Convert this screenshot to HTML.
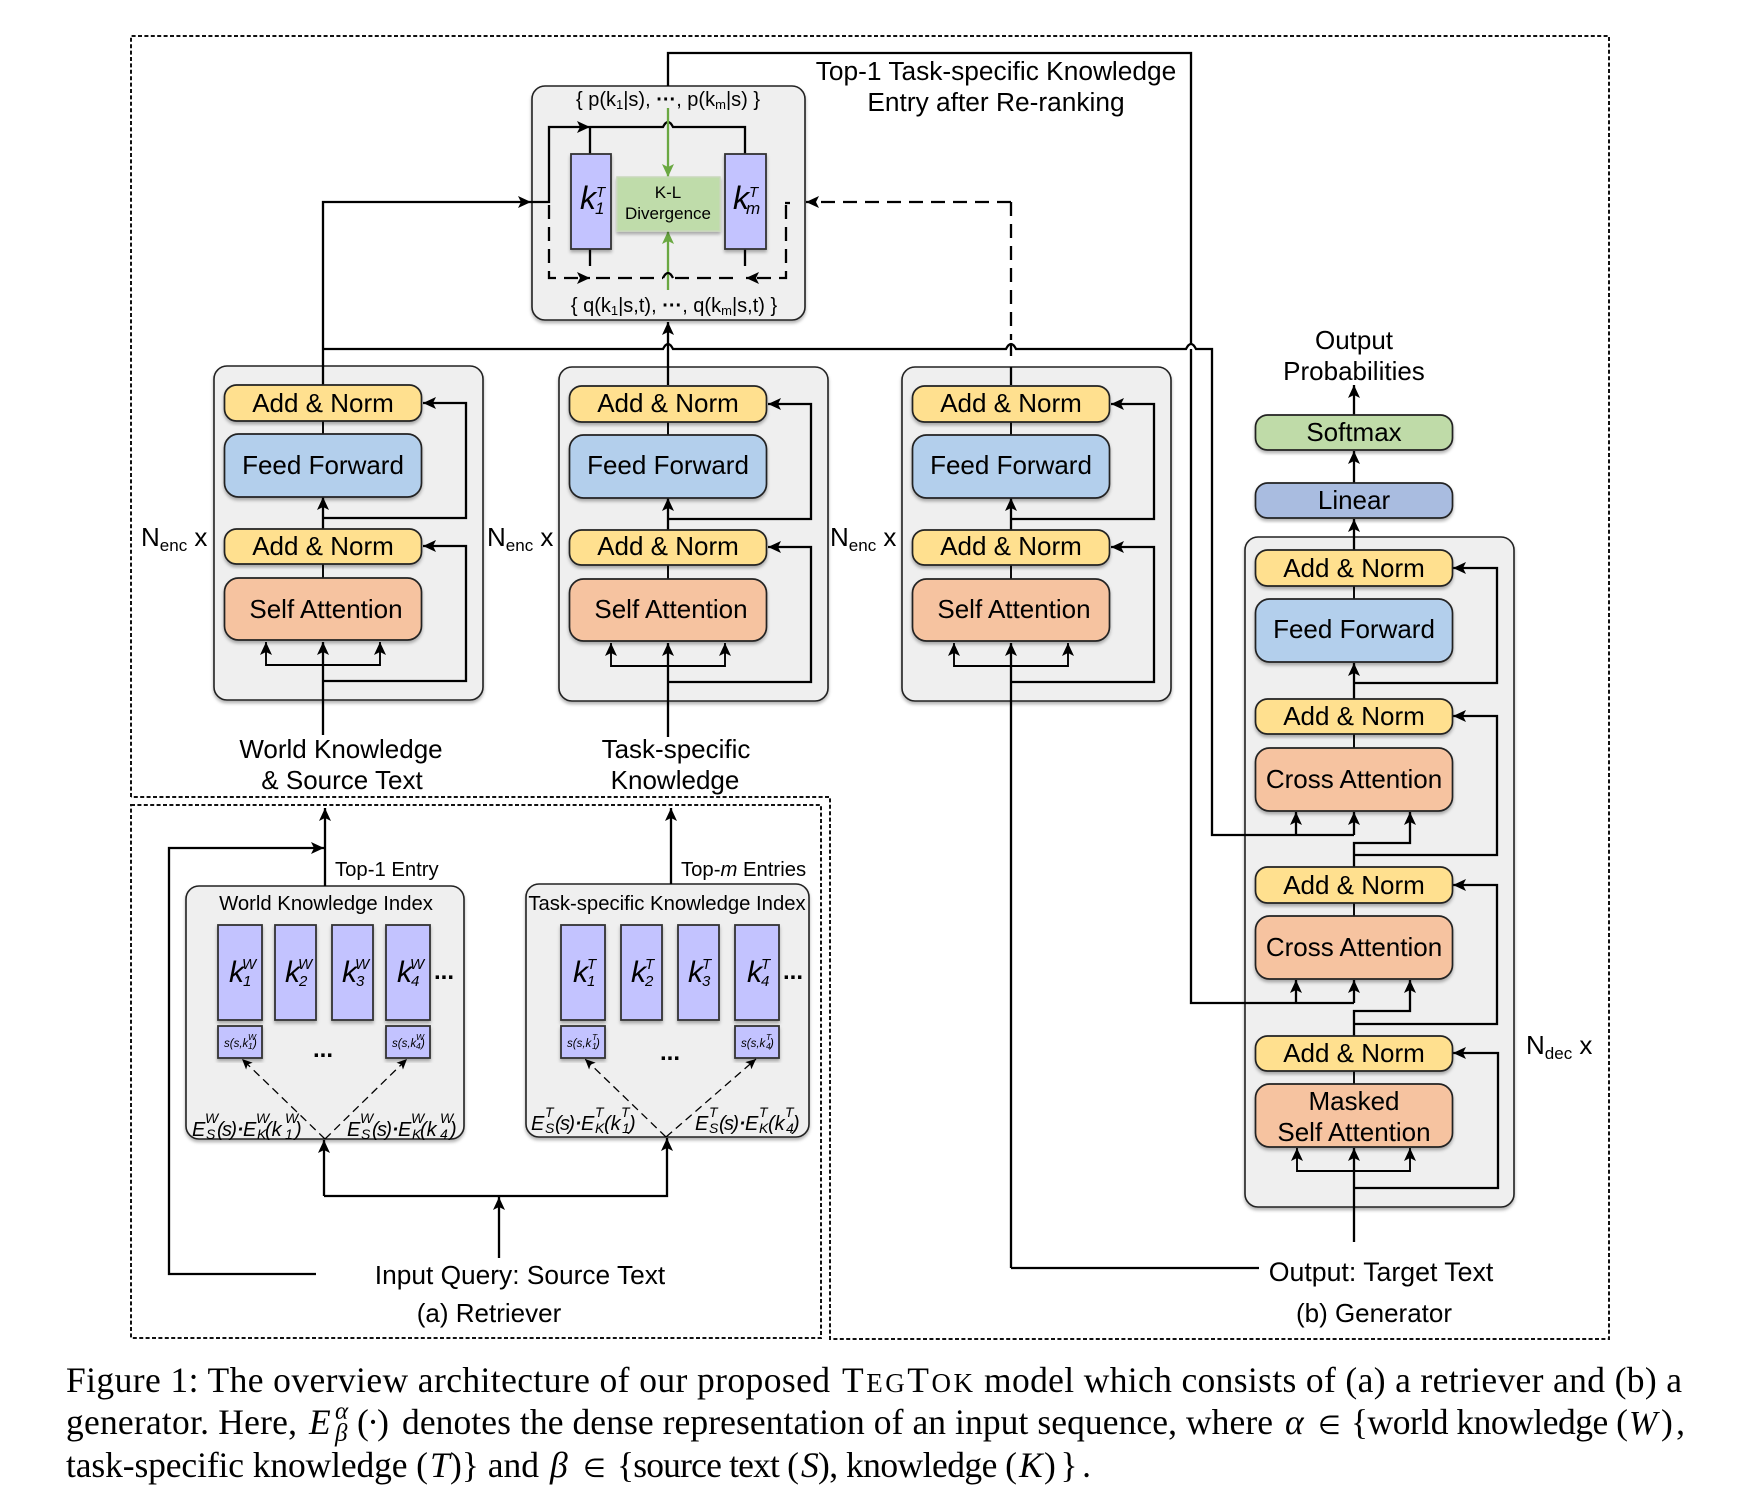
<!DOCTYPE html>
<html><head><meta charset="utf-8"><title>TegTok overview</title>
<style>
html,body{margin:0;padding:0;background:#fff}
svg{display:block}
text{font-family:"Liberation Sans",sans-serif;fill:#000}
.c{text-anchor:middle}
.t{font-size:26px}
.s20{font-size:20.3px}
.i{font-style:italic}
.k{font-size:30px;font-style:italic}
.ks{font-size:15px;font-style:italic}
.f{font-size:20px;font-style:italic}
.fs{font-size:14px;font-style:italic}
.m{font-size:11.5px;font-style:italic}
.ms{font-size:8.5px;font-style:italic}
.cap text,.cap{font-family:"Liberation Serif",serif;font-size:35.5px}
.l{fill:none;stroke:#000;stroke-width:2.3}
.n{fill:none;stroke:#000;stroke-width:1.9}
.d{fill:none;stroke:#000;stroke-width:2.3;stroke-dasharray:14 8}
.g{fill:none;stroke:#6aa842;stroke-width:2.3}
.box{fill:#efefef;stroke:#222;stroke-width:1.6;filter:url(#sh)}
.y{fill:#ffe08f;stroke:#222;stroke-width:1.7;filter:url(#sh)}
.b{fill:#b3cfec;stroke:#222;stroke-width:1.7;filter:url(#sh)}
.o{fill:#f6c3a0;stroke:#222;stroke-width:1.7;filter:url(#sh)}
.v{fill:#c3c3ff;stroke:#333;stroke-width:1.8;filter:url(#sh)}
.dot{fill:none;stroke:#111;stroke-width:2;stroke-dasharray:4 2.4}
</style></head><body>
<svg width="1738" height="1506" viewBox="0 0 1738 1506" xmlns="http://www.w3.org/2000/svg">
<defs>
<filter id="sh" x="-10%" y="-10%" width="120%" height="125%"><feDropShadow dx="0" dy="2.5" stdDeviation="1.6" flood-color="#000" flood-opacity=".3"/></filter>
<marker id="a" markerUnits="userSpaceOnUse" markerWidth="14" markerHeight="12" viewBox="0 0 14 12" refX="13" refY="6" orient="auto"><path d="M0,0 L13,6 L0,12 L3,6 z" fill="#000"/></marker>
<marker id="as" markerUnits="userSpaceOnUse" markerWidth="11" markerHeight="10" viewBox="0 0 14 12" refX="13" refY="6" orient="auto"><path d="M0,0 L13,6 L0,12 L3,6 z" fill="#000"/></marker>
<marker id="ag" markerUnits="userSpaceOnUse" markerWidth="14" markerHeight="12" viewBox="0 0 14 12" refX="13" refY="6" orient="auto"><path d="M0,0 L13,6 L0,12 L3,6 z" fill="#6aa842"/></marker>
</defs>

<!-- dotted frames -->
<path class="dot" d="M131,797 V36 H1609 V1339 H830 V797 H131"/>
<rect class="dot" x="131" y="805" width="690" height="533"/>

<!-- background panels -->
<rect class="box" x="532" y="86" width="273" height="234" rx="13"/>
<rect class="box" x="214" y="366" width="269" height="334" rx="13"/>
<rect class="box" x="559" y="367" width="269" height="334" rx="13"/>
<rect class="box" x="902" y="367" width="269" height="334" rx="13"/>
<rect class="box" x="1245" y="537" width="269" height="670" rx="13"/>
<rect class="box" x="186" y="886" width="278" height="253" rx="13"/>
<rect class="box" x="526" y="884" width="283" height="253" rx="13"/>

<!-- rerank box connectors -->
<path class="l" d="M668,86 V53 H1191 V345"/>
<path class="l" d="M323,385 V202 H531" marker-end="url(#a)"/>
<path class="l" d="M531,202 H549 V127 H590" marker-end="url(#a)"/>
<path class="l" d="M590,127 H663 Q668,117 673,127 H745 V154"/>
<path class="l" d="M590,127 V154"/>
<path class="g" d="M668,108 V177" marker-end="url(#ag)"/>
<path class="g" d="M668,290 V231" marker-end="url(#ag)"/>
<path class="l" d="M590,249 V266 M745,249 V266" stroke-width="2"/>
<path class="d" d="M549,205 V278 H590" marker-end="url(#a)"/>
<path class="d" d="M596,278 H663"/>
<path class="l" d="M663,278 Q668,268 673,278"/>
<path class="d" d="M675,278 H735"/>
<path class="d" d="M786,205 V278 H746" marker-end="url(#a)"/>
<path class="l" d="M785,203 H790" stroke-width="2"/>
<path class="d" d="M1011,202 H806" marker-end="url(#a)"/>
<path class="d" d="M1011,202 V340"/>
<path class="l" d="M1011,367 V385 M1011,356 V345" stroke-width="2"/>

<!-- long horizontal bus -->
<path class="l" d="M323,349 H663 Q668,339 673,349 H1006 Q1011,339 1016,349 H1186 Q1191,339 1196,349 H1212 V835 H1354"/>
<path class="l" d="M668,385 V322" marker-end="url(#a)"/>
<path class="l" d="M1191,349 V1003 H1354"/>

<!-- rerank content -->
<rect class="v" x="571" y="154" width="40" height="95"/>
<rect class="v" x="725" y="154" width="41" height="95"/>
<rect x="617" y="177" width="103" height="54" fill="#bfdcaa" stroke="#c9d8bb" stroke-width="1.5" filter="url(#sh)"/>
<text class="c" x="668" y="106" style="font-size:20px">{ p(k<tspan font-size="13" dy="3">1</tspan><tspan dy="-3">|s), </tspan><tspan font-weight="bold">···</tspan><tspan>, p(k</tspan><tspan font-size="13" dy="3">m</tspan><tspan dy="-3">|s) }</tspan></text>
<text class="c" x="674" y="312" style="font-size:20px">{ q(k<tspan font-size="13" dy="3">1</tspan><tspan dy="-3">|s,t), </tspan><tspan font-weight="bold">···</tspan><tspan>, q(k</tspan><tspan font-size="13" dy="3">m</tspan><tspan dy="-3">|s,t) }</tspan></text>
<text class="c" x="668" y="198" style="font-size:17px">K-L</text>
<text class="c" x="668" y="219" style="font-size:17px">Divergence</text>
<text class="k" x="580" y="209" style="font-size:32px">k</text><text class="ks" x="596" y="197">T</text><text class="ks" x="595" y="214" style="font-size:17px">1</text>
<text class="k" x="733" y="209" style="font-size:32px">k</text><text class="ks" x="749" y="197">T</text><text class="ks" x="746" y="214" style="font-size:17px">m</text>
<text class="t c" x="996" y="80" style="font-size:26.3px">Top-1 Task-specific Knowledge</text>
<text class="t c" x="996" y="111" style="font-size:26.3px">Entry after Re-ranking</text>

<!-- Encoder 1 -->
<path class="n" d="M323,421 V434 M323,564 V578"/>
<path class="l" d="M323,735 V642" marker-end="url(#a)"/>
<path class="l" d="M323,681 H466 V546 H423" marker-end="url(#a)"/>
<path class="l" d="M323,529 V497" marker-end="url(#a)"/>
<path class="l" d="M323,518 H466 V403 H423" marker-end="url(#a)"/>
<path class="n" d="M323,665 H266 V642" marker-end="url(#a)"/>
<path class="n" d="M323,665 H380 V642" marker-end="url(#a)"/>
<rect class="y" x="224.500" y="385" width="197" height="36" rx="12"/>
<rect class="b" x="224.500" y="434" width="197" height="63" rx="14"/>
<rect class="y" x="224.500" y="529" width="197" height="35" rx="12"/>
<rect class="o" x="224.500" y="578" width="197" height="62" rx="14"/>
<text class="t c" x="323" y="412">Add &amp; Norm</text>
<text class="t c" x="323" y="474">Feed Forward</text>
<text class="t c" x="323" y="555">Add &amp; Norm</text>
<text class="t c" x="326" y="618">Self Attention</text>
<text class="t" x="141" y="546">N<tspan font-size="17" dy="5">enc</tspan><tspan dy="-5"> x</tspan></text>
<text class="t c" x="341" y="758">World Knowledge</text>
<text class="t c" x="342" y="789">&amp; Source Text</text>

<!-- Encoder 2 -->
<path class="n" d="M668,422 V435 M668,565 V579"/>
<path class="l" d="M668,737 V643" marker-end="url(#a)"/>
<path class="l" d="M668,682 H811 V547 H768" marker-end="url(#a)"/>
<path class="l" d="M668,530 V498" marker-end="url(#a)"/>
<path class="l" d="M668,519 H811 V404 H768" marker-end="url(#a)"/>
<path class="n" d="M668,666 H611 V643" marker-end="url(#a)"/>
<path class="n" d="M668,666 H725 V643" marker-end="url(#a)"/>
<rect class="y" x="569.500" y="386" width="197" height="36" rx="12"/>
<rect class="b" x="569.500" y="435" width="197" height="63" rx="14"/>
<rect class="y" x="569.500" y="530" width="197" height="35" rx="12"/>
<rect class="o" x="569.500" y="579" width="197" height="62" rx="14"/>
<text class="t c" x="668" y="412">Add &amp; Norm</text>
<text class="t c" x="668" y="474">Feed Forward</text>
<text class="t c" x="668" y="555">Add &amp; Norm</text>
<text class="t c" x="671" y="618">Self Attention</text>
<text class="t" x="487" y="546">N<tspan font-size="17" dy="5">enc</tspan><tspan dy="-5"> x</tspan></text>
<text class="t c" x="676" y="758">Task-specific</text>
<text class="t c" x="675" y="789">Knowledge</text>

<!-- Encoder 3 -->
<path class="n" d="M1011,422 V435 M1011,565 V579"/>
<path class="l" d="M1011,1268 V643" marker-end="url(#a)"/>
<path class="l" d="M1011,1268 H1259"/>
<path class="l" d="M1011,682 H1154 V547 H1111" marker-end="url(#a)"/>
<path class="l" d="M1011,530 V498" marker-end="url(#a)"/>
<path class="l" d="M1011,519 H1154 V404 H1111" marker-end="url(#a)"/>
<path class="n" d="M1011,666 H954 V643" marker-end="url(#a)"/>
<path class="n" d="M1011,666 H1068 V643" marker-end="url(#a)"/>
<rect class="y" x="912.500" y="386" width="197" height="36" rx="12"/>
<rect class="b" x="912.500" y="435" width="197" height="63" rx="14"/>
<rect class="y" x="912.500" y="530" width="197" height="35" rx="12"/>
<rect class="o" x="912.500" y="579" width="197" height="62" rx="14"/>
<text class="t c" x="1011" y="412">Add &amp; Norm</text>
<text class="t c" x="1011" y="474">Feed Forward</text>
<text class="t c" x="1011" y="555">Add &amp; Norm</text>
<text class="t c" x="1014" y="618">Self Attention</text>
<text class="t" x="830" y="546">N<tspan font-size="17" dy="5">enc</tspan><tspan dy="-5"> x</tspan></text>

<!-- Decoder connectors -->
<path class="l" d="M1354,415 V385" marker-end="url(#a)"/>
<path class="l" d="M1354,483 V451" marker-end="url(#a)"/>
<path class="l" d="M1354,550 V519" marker-end="url(#a)"/>
<path class="n" d="M1354,586 V599"/>
<path class="l" d="M1354,699 V663" marker-end="url(#a)"/>
<path class="l" d="M1354,683 H1497 V568 H1453" marker-end="url(#a)"/>
<path class="n" d="M1354,734 V748"/>
<path class="l" d="M1296,835 V812" marker-end="url(#a)"/>
<path class="l" d="M1354,835 V812" marker-end="url(#a)"/>
<path class="l" d="M1354,867 V843 H1410 V812" marker-end="url(#a)"/>
<path class="l" d="M1354,855 H1497 V716 H1453" marker-end="url(#a)"/>
<path class="n" d="M1354,903 V916"/>
<path class="l" d="M1296,1003 V980" marker-end="url(#a)"/>
<path class="l" d="M1354,1003 V980" marker-end="url(#a)"/>
<path class="l" d="M1354,1036 V1011 H1410 V980" marker-end="url(#a)"/>
<path class="l" d="M1354,1024 H1497 V885 H1453" marker-end="url(#a)"/>
<path class="n" d="M1354,1071 V1084"/>
<path class="l" d="M1354,1242 V1148" marker-end="url(#a)"/>
<path class="l" d="M1354,1188 H1498 V1053 H1453" marker-end="url(#a)"/>
<path class="n" d="M1354,1171 H1297 V1148" marker-end="url(#a)"/>
<path class="n" d="M1354,1171 H1410 V1148" marker-end="url(#a)"/>

<!-- Decoder boxes -->
<rect class="y" x="1255.500" y="415" width="197" height="35" rx="12" style="fill:#bfdba8"/>
<rect class="y" x="1255.500" y="483" width="197" height="35" rx="12" style="fill:#a9bce0"/>
<rect class="y" x="1255.500" y="550" width="197" height="36" rx="12"/>
<rect class="b" x="1255.500" y="599" width="197" height="63" rx="14"/>
<rect class="y" x="1255.500" y="699" width="197" height="35" rx="12"/>
<rect class="o" x="1255.500" y="748" width="197" height="63" rx="14"/>
<rect class="y" x="1255.500" y="867" width="197" height="36" rx="12"/>
<rect class="o" x="1255.500" y="916" width="197" height="63" rx="14"/>
<rect class="y" x="1255.500" y="1036" width="197" height="35" rx="12"/>
<rect class="o" x="1255.500" y="1084" width="197" height="63" rx="14"/>
<text class="t c" x="1354" y="349">Output</text>
<text class="t c" x="1354" y="380">Probabilities</text>
<text class="t c" x="1354" y="441">Softmax</text>
<text class="t c" x="1354" y="509">Linear</text>
<text class="t c" x="1354" y="577">Add &amp; Norm</text>
<text class="t c" x="1354" y="638">Feed Forward</text>
<text class="t c" x="1354" y="725">Add &amp; Norm</text>
<text class="t c" x="1354" y="788">Cross Attention</text>
<text class="t c" x="1354" y="894">Add &amp; Norm</text>
<text class="t c" x="1354" y="956">Cross Attention</text>
<text class="t c" x="1354" y="1062">Add &amp; Norm</text>
<text class="t c" x="1354" y="1110">Masked</text>
<text class="t c" x="1354" y="1141">Self Attention</text>
<text class="t" x="1526" y="1054">N<tspan font-size="17" dy="5">dec</tspan><tspan dy="-5"> x</tspan></text>
<text class="t c" x="1381" y="1281" style="font-size:26.7px">Output: Target Text</text>
<text class="t c" x="1374" y="1322">(b) Generator</text>

<!-- Retriever connectors -->
<path class="l" d="M325,886 V808" marker-end="url(#a)"/>
<path class="l" d="M316,1274 H169 V848 H324" marker-end="url(#a)"/>
<path class="l" d="M671,884 V808" marker-end="url(#a)"/>
<path class="l" d="M324,1196 V1140" marker-end="url(#a)"/>
<path class="l" d="M324,1196 H667 V1138" marker-end="url(#a)"/>
<path class="l" d="M499,1258 V1197" marker-end="url(#a)"/>
<text class="s20" x="335" y="876">Top-1 Entry</text>
<text class="s20" x="681" y="876">Top-<tspan class="i">m</tspan> Entries</text>
<text class="t c" x="520" y="1284" style="font-size:26.3px">Input Query: Source Text</text>
<text class="t c" x="489" y="1322">(a) Retriever</text>

<!-- World index -->
<text class="s20 c" x="326" y="910">World Knowledge Index</text>
<rect class="v" x="218" y="925" width="44" height="95"/>
<rect class="v" x="275" y="925" width="41" height="95"/>
<rect class="v" x="332" y="925" width="41" height="95"/>
<rect class="v" x="386" y="925" width="44" height="95"/>
<rect class="v" x="218" y="1026" width="44" height="32"/>
<rect class="v" x="386" y="1026" width="44" height="32"/>
<text class="k" x="229" y="982">k</text><text class="ks" x="242" y="969">W</text><text class="ks" x="243" y="986">1</text>
<text class="k" x="285" y="982">k</text><text class="ks" x="298" y="969">W</text><text class="ks" x="299" y="986">2</text>
<text class="k" x="342" y="982">k</text><text class="ks" x="355" y="969">W</text><text class="ks" x="356" y="986">3</text>
<text class="k" x="397" y="982">k</text><text class="ks" x="410" y="969">W</text><text class="ks" x="411" y="986">4</text>
<text x="434" y="979" style="font-size:24px;font-weight:bold">...</text>
<text x="313" y="1057" style="font-size:24px;font-weight:bold">...</text>
<text class="m" x="224" y="1047">s(s,k</text><text class="ms" x="248" y="1040">W</text><text class="ms" x="248" y="1049">1</text><text class="m" x="253" y="1047">)</text>
<text class="m" x="392" y="1047">s(s,k</text><text class="ms" x="416" y="1040">W</text><text class="ms" x="416" y="1049">4</text><text class="m" x="421" y="1047">)</text>
<path d="M325,1139 L242,1059" fill="none" stroke="#000" stroke-width="1.3" stroke-dasharray="8 5" marker-end="url(#as)"/>
<path d="M325,1139 L407,1059" fill="none" stroke="#000" stroke-width="1.3" stroke-dasharray="8 5" marker-end="url(#as)"/>
<text class="f" x="192" y="1136">E</text><text class="fs" x="205" y="1123">W</text><text class="fs" x="206" y="1139">S</text><text class="f" x="217" y="1136" textLength="20">(s)</text><text class="f" x="237" y="1136" font-weight="bold">·</text>
<text class="f" x="243" y="1136">E</text><text class="fs" x="256" y="1123">W</text><text class="fs" x="257" y="1139">K</text><text class="f" x="265" y="1136">(k</text><text class="fs" x="285" y="1123">W</text><text class="fs" x="285" y="1139">1</text><text class="f" x="295" y="1136">)</text>
<text class="f" x="347" y="1136">E</text><text class="fs" x="360" y="1123">W</text><text class="fs" x="361" y="1139">S</text><text class="f" x="372" y="1136" textLength="20">(s)</text><text class="f" x="392" y="1136" font-weight="bold">·</text>
<text class="f" x="398" y="1136">E</text><text class="fs" x="411" y="1123">W</text><text class="fs" x="412" y="1139">K</text><text class="f" x="420" y="1136">(k</text><text class="fs" x="440" y="1123">W</text><text class="fs" x="440" y="1139">4</text><text class="f" x="450" y="1136">)</text>

<!-- Task index -->
<text class="s20 c" x="667" y="910">Task-specific Knowledge Index</text>
<rect class="v" x="561" y="925" width="44" height="95"/>
<rect class="v" x="621" y="925" width="41" height="95"/>
<rect class="v" x="678" y="925" width="41" height="95"/>
<rect class="v" x="735" y="925" width="44" height="95"/>
<rect class="v" x="561" y="1026" width="44" height="32"/>
<rect class="v" x="735" y="1026" width="44" height="32"/>
<text class="k" x="573" y="982">k</text><text class="ks" x="587" y="969">T</text><text class="ks" x="587" y="986">1</text>
<text class="k" x="631" y="982">k</text><text class="ks" x="645" y="969">T</text><text class="ks" x="645" y="986">2</text>
<text class="k" x="688" y="982">k</text><text class="ks" x="702" y="969">T</text><text class="ks" x="702" y="986">3</text>
<text class="k" x="747" y="982">k</text><text class="ks" x="761" y="969">T</text><text class="ks" x="761" y="986">4</text>
<text x="783" y="979" style="font-size:24px;font-weight:bold">...</text>
<text x="660" y="1060" style="font-size:24px;font-weight:bold">...</text>
<text class="m" x="567" y="1047">s(s,k</text><text class="ms" x="592" y="1040">T</text><text class="ms" x="592" y="1049">1</text><text class="m" x="596" y="1047">)</text>
<text class="m" x="741" y="1047">s(s,k</text><text class="ms" x="766" y="1040">T</text><text class="ms" x="766" y="1049">4</text><text class="m" x="770" y="1047">)</text>
<path d="M666,1137 L585,1059" fill="none" stroke="#000" stroke-width="1.3" stroke-dasharray="8 5" marker-end="url(#as)"/>
<path d="M666,1137 L756,1059" fill="none" stroke="#000" stroke-width="1.3" stroke-dasharray="8 5" marker-end="url(#as)"/>
<text class="f" x="531" y="1130">E</text><text class="fs" x="545" y="1117">T</text><text class="fs" x="545" y="1133">S</text><text class="f" x="555" y="1130" textLength="20">(s)</text><text class="f" x="575" y="1130" font-weight="bold">·</text>
<text class="f" x="581" y="1130">E</text><text class="fs" x="595" y="1117">T</text><text class="fs" x="595" y="1133">K</text><text class="f" x="604" y="1130">(k</text><text class="fs" x="621" y="1117">T</text><text class="fs" x="622" y="1133">1</text><text class="f" x="629" y="1130">)</text>
<text class="f" x="695" y="1130">E</text><text class="fs" x="709" y="1117">T</text><text class="fs" x="709" y="1133">S</text><text class="f" x="719" y="1130" textLength="20">(s)</text><text class="f" x="739" y="1130" font-weight="bold">·</text>
<text class="f" x="745" y="1130">E</text><text class="fs" x="759" y="1117">T</text><text class="fs" x="759" y="1133">K</text><text class="f" x="768" y="1130">(k</text><text class="fs" x="785" y="1117">T</text><text class="fs" x="786" y="1133">4</text><text class="f" x="793" y="1130">)</text>

<!-- Caption -->
<g class="cap">
<text x="66" y="1392" textLength="764" lengthAdjust="spacing">Figure 1: The overview architecture of our proposed</text>
<text x="842" y="1392" textLength="131" lengthAdjust="spacing">T<tspan font-size="27">EG</tspan>T<tspan font-size="27">OK</tspan></text>
<text x="984" y="1392" textLength="698" lengthAdjust="spacing">model which consists of (a) a retriever and (b) a</text>

<text x="66" y="1434" textLength="231" lengthAdjust="spacing">generator. Here,</text>
<text x="309" y="1434" font-style="italic">E</text>
<text x="335" y="1419" style="font-size:25px;font-style:italic">α</text>
<text x="335" y="1441" style="font-size:25px;font-style:italic">β</text>
<text x="357" y="1434" textLength="32" lengthAdjust="spacing">(·)</text>
<text x="402" y="1434" textLength="871" lengthAdjust="spacing">denotes the dense representation of an input sequence, where</text>
<text x="1285" y="1434" font-style="italic">α</text>
<text x="1318" y="1434" style="font-family:'DejaVu Sans',serif;font-size:26px">∈</text>
<text x="1351" y="1434" textLength="277" lengthAdjust="spacing">{world knowledge (</text>
<text x="1629" y="1434" font-style="italic" style="font-size:34px">W</text>
<text x="1661" y="1434" textLength="24" lengthAdjust="spacing">),</text>

<text x="66" y="1477" textLength="362" lengthAdjust="spacing">task-specific knowledge (</text>
<text x="430" y="1477" font-style="italic">T</text>
<text x="450" y="1477" textLength="89" lengthAdjust="spacing">)} and</text>
<text x="550" y="1477" font-style="italic">β</text>
<text x="583" y="1477" style="font-family:'DejaVu Sans',serif;font-size:26px">∈</text>
<text x="617" y="1477" textLength="182" lengthAdjust="spacing">{source text (</text>
<text x="801" y="1477" font-style="italic">S</text>
<text x="818" y="1477" textLength="199" lengthAdjust="spacing">), knowledge (</text>
<text x="1019" y="1477" font-style="italic">K</text>
<text x="1044" y="1477" textLength="47" lengthAdjust="spacing">)}.</text>
</g>
</svg>
</body></html>
